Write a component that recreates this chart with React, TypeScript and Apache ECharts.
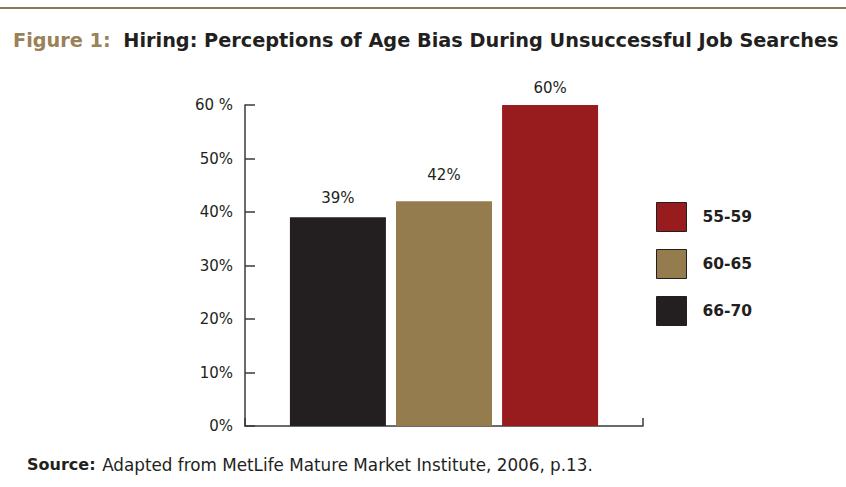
import React, { useEffect, useRef } from "react";
import * as echarts from "echarts";

const categories = ["Age Bias"];
const seriesNames = ["66-70", "60-65", "55-59"];
const seriesValues = [39, 42, 60];
const seriesColors = ["#231F20", "#957C4F", "#981B1E"];
const labelDistances = [12, 19, 10];
const legendOrder = ["55-59", "60-65", "66-70"];
const yTicks = [0, 10, 20, 30, 40, 50, 60];

const FONT = "'DejaVu Sans', sans-serif";

export default function App() {
  const ref = useRef<HTMLDivElement>(null);
  useEffect(() => {
    if (!ref.current) return;
    const chart = echarts.init(ref.current, undefined, { renderer: "svg" });
    chart.setOption({
      animation: false,
      backgroundColor: "#ffffff",
      textStyle: { fontFamily: FONT },
      title: {
        left: 13,
        top: 31,
        padding: 0,
        text: "{a|Figure 1:}  {b|Hiring: Perceptions of Age Bias During Unsuccessful Job Searches}",
        textStyle: {
          rich: {
            a: { fontFamily: FONT, fontSize: 19.3, fontWeight: "bold", color: "#9A8157" },
            b: { fontFamily: FONT, fontSize: 19.3, fontWeight: "bold", color: "#231F20" },
          },
        },
      },
      graphic: [
        {
          type: "rect",
          shape: { x: 0, y: 7, width: 846, height: 2 },
          style: { fill: "#8C7A55" },
        },
        {
          type: "text",
          left: 27,
          top: 456,
          style: {
            text: "{a|Source:}  {b|Adapted from MetLife Mature Market Institute, 2006, p.13.}",
            rich: {
              a: { fontFamily: FONT, fontSize: 16, fontWeight: "bold", fill: "#231F20" },
              b: { fontFamily: FONT, fontSize: 16.8, fill: "#231F20" },
            },
          },
        },
      ],
      legend: {
        orient: "vertical",
        left: 656,
        top: 202,
        padding: 0,
        icon: "rect",
        itemWidth: 30,
        itemHeight: 29,
        itemGap: 17,
        data: legendOrder,
        selectedMode: false,
        textStyle: {
          fontFamily: FONT,
          fontSize: 15.5,
          fontWeight: "bold",
          color: "#231F20",
          padding: [0, 0, 0, 11],
        },
        itemStyle: { borderColor: "#231F20", borderWidth: 1 },
      },
      grid: { left: 245, right: 203, top: 105, bottom: 61, containLabel: false },
      xAxis: {
        type: "category",
        data: categories,
        axisLine: { show: true, lineStyle: { color: "#3A3A3A", width: 1.5 } },
        axisTick: { show: true, inside: true, length: 8, lineStyle: { color: "#3A3A3A", width: 1.5 } },
        axisLabel: { show: false },
        splitLine: { show: false },
      },
      yAxis: {
        type: "value",
        min: yTicks[0],
        max: yTicks[yTicks.length - 1],
        interval: 10,
        axisLine: { show: true, lineStyle: { color: "#3A3A3A", width: 1.5 } },
        axisTick: { show: true, inside: true, length: 10, lineStyle: { color: "#3A3A3A", width: 1.5 } },
        splitLine: { show: false },
        axisLabel: {
          margin: 12,
          fontFamily: FONT,
          fontSize: 15,
          color: "#231F20",
          formatter: (v: number) => (v === 60 ? "60 %" : v + "%"),
        },
      },
      series: seriesNames.map((name, i) => ({
        name,
        type: "bar",
        barWidth: 96,
        barGap: "10.5%",
        itemStyle: { color: seriesColors[i] },
        label: {
          show: true,
          position: "top",
          distance: labelDistances[i],
          fontFamily: FONT,
          fontSize: 15,
          color: "#231F20",
          formatter: "{c}%",
        },
        data: [seriesValues[i]],
      })),
    });
    return () => chart.dispose();
  }, []);
  return (
    <div
      ref={ref}
      style={{ position: "fixed", left: 0, top: 0, width: 846, height: 487 }}
    />
  );
}
